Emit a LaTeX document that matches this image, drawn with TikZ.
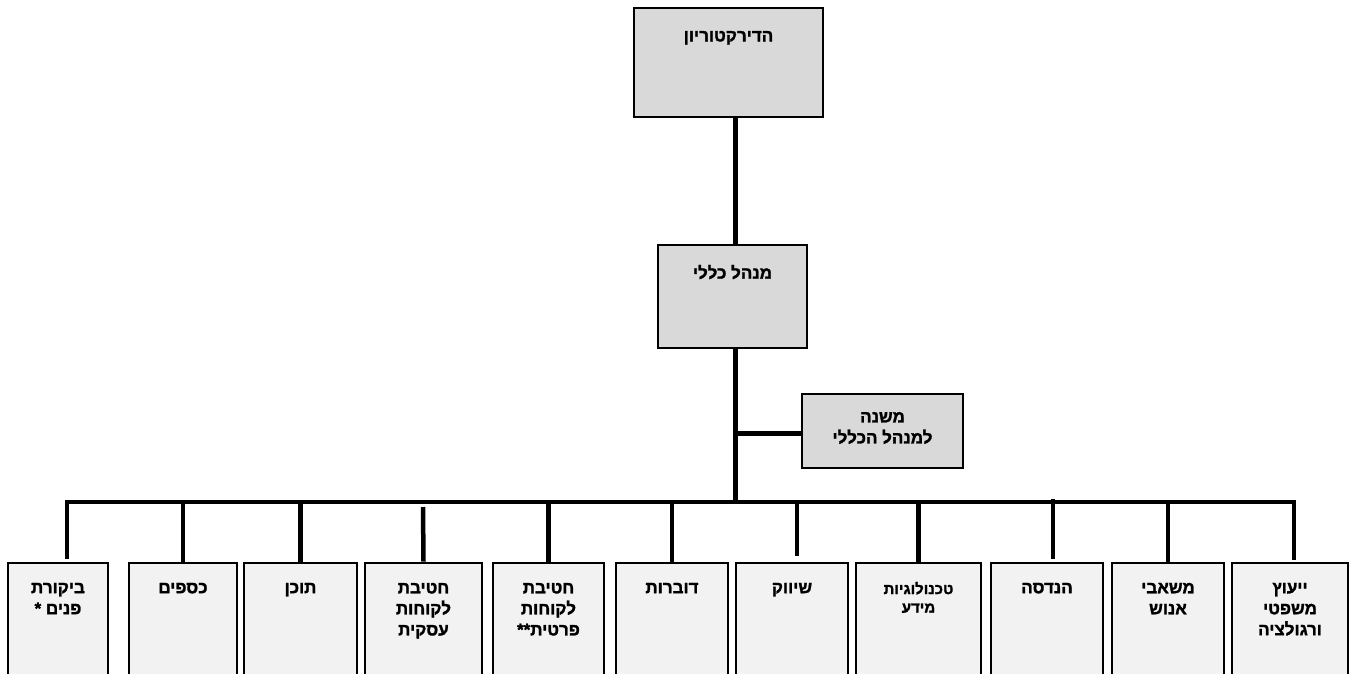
\documentclass[tikz,border=0pt]{standalone}
\usepackage{fontspec}
\newfontfamily\hebfont[Script=Hebrew, FakeBold=1.6]{Liberation Sans Bold}
\TeXXeTstate=1
\newcommand{\heb}[1]{\beginR #1\endR}
\definecolor{topgray}{HTML}{D9D9D9}
\definecolor{botgray}{HTML}{F2F2F2}
\begin{document}
\begin{tikzpicture}[x=1pt,y=-1pt,
  topbox/.style={draw=black, fill=topgray, line width=2.6pt, inner sep=0pt},
  botbox/.style={draw=black, fill=botgray, line width=2.6pt, inner sep=0pt, minimum height=140pt},
  lbl/.style={font=\hebfont\fontsize{17}{21}\selectfont, align=center, inner sep=0pt, anchor=north, yshift=-21pt},
  lblsmall/.style={font=\hebfont\fontsize{15}{18.5}\selectfont, align=center, inner sep=0pt, anchor=north, yshift=-20pt},
  conn/.style={line width=5pt, line cap=butt},
  bus/.style={line width=4.5pt, line join=miter},
  drop/.style={line width=4.5pt}]
\useasboundingbox (0,0) rectangle (1352,673);
\clip (0,0) rectangle (1352,673);
% top boxes
\node[topbox, minimum width=189pt, minimum height=109pt] (dir) at (728.5,62.5) {};
\node[topbox, minimum width=149pt, minimum height=103pt] (gm) at (732.5,296.5) {};
\node[topbox, minimum width=161pt, minimum height=74pt] (dep) at (882.5,431) {};
\node[lbl, yshift=-3pt] (tdir) at (dir.north) {\heb{הדירקטוריון}};
\node[lbl] (tgm) at (gm.north) {\heb{מנהל כללי}};
\node[font=\hebfont\fontsize{17}{21}\selectfont, align=center, inner sep=0pt] (tdep) at (882.5,428) {\heb{משנה}\\\heb{למנהל הכללי}};
% bottom boxes
\node[botbox, minimum width=100pt] (b1) at (58,633) {};
\node[botbox, minimum width=108pt] (b2) at (183,633) {};
\node[botbox, minimum width=113pt] (b3) at (300.5,633) {};
\node[botbox, minimum width=117pt] (b4) at (423.5,633) {};
\node[botbox, minimum width=111pt] (b5) at (548.5,633) {};
\node[botbox, minimum width=112pt] (b6) at (672,633) {};
\node[botbox, minimum width=112pt] (b7) at (792,633) {};
\node[botbox, minimum width=125pt] (b8) at (918.5,633) {};
\node[botbox, minimum width=112pt] (b9) at (1047,633) {};
\node[botbox, minimum width=112pt] (b10) at (1168,633) {};
\node[botbox, minimum width=116pt] (b11) at (1290,633) {};
\node[lbl] (t1) at (b1.north) {\heb{ביקורת}\\\heb{פנים *}};
\node[lbl] (t2) at (b2.north) {\heb{כספים}};
\node[lbl] (t3) at (b3.north) {\heb{תוכן}};
\node[lbl] (t4) at (b4.north) {\heb{חטיבת}\\\heb{לקוחות}\\\heb{עסקית}};
\node[lbl] (t5) at (b5.north) {\heb{חטיבת}\\\heb{לקוחות}\\\heb{פרטית**}};
\node[lbl] (t6) at (b6.north) {\heb{דוברות}};
\node[lbl] (t7) at (b7.north) {\heb{שיווק}};
\node[lblsmall] (t8) at (b8.north) {\heb{טכנולוגיות}\\\heb{מידע}};
\node[lbl] (t9) at (b9.north) {\heb{הנדסה}};
\node[lbl] (t10) at (b10.north) {\heb{משאבי}\\\heb{אנוש}};
\node[lbl] (t11) at (b11.north) {\heb{ייעוץ}\\\heb{משפטי}\\\heb{ורגולציה}};
% junction coordinates
\coordinate (j) at (735,502);
\coordinate (jd) at (735,433);
\coordinate (d1) at (67,559);
\coordinate (d4) at (423,507);
\coordinate (d7) at (797,556);
\coordinate (d9a) at (1053,499);
\coordinate (d9) at (1053,559);
\coordinate (d11) at (1294,560);
% connectors
\draw[conn] (dir.south -| j) -- (gm.north -| j);
\draw[conn] (gm.south -| j) -- ([yshift=-2pt]j);
\draw[conn] (jd) -- (dep.west |- jd);
\draw[bus] (d1) -- (d1 |- j) -- (d11 |- j) -- (d11);
\draw[drop] (b2.north |- j) -- (b2.north);
\draw[drop] (b3.north |- j) -- (b3.north);
\draw[drop] (d4) -- (b4.north);
\draw[drop] (b5.north |- j) -- (b5.north);
\draw[drop] (b6.north |- j) -- (b6.north);
\draw[drop] (d7 |- j) -- (d7);
\draw[drop] (b8.north |- j) -- (b8.north);
\draw[drop] (d9a) -- (d9);
\draw[drop] (b10.north |- j) -- (b10.north);
\end{tikzpicture}
\end{document}
